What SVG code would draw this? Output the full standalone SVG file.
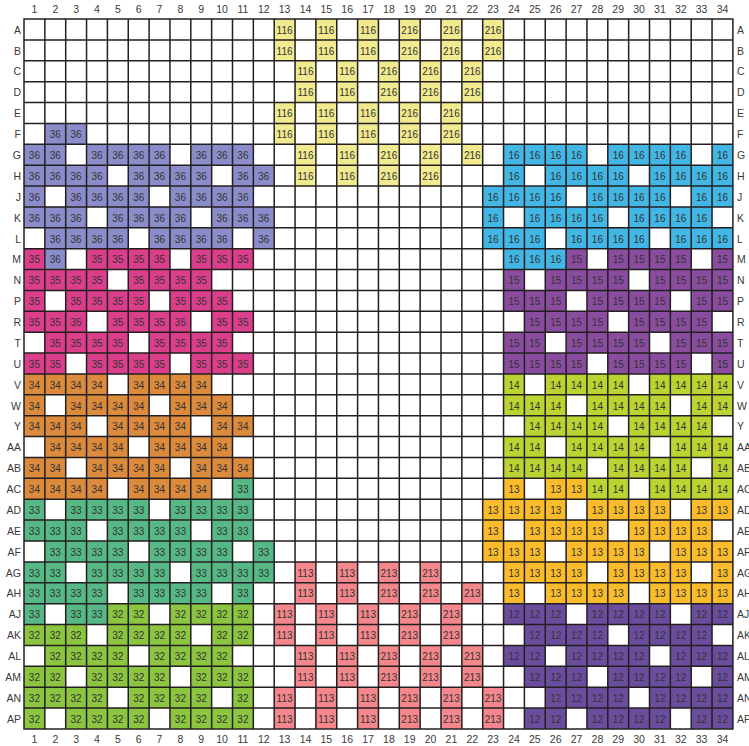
<svg xmlns="http://www.w3.org/2000/svg" width="749" height="746" viewBox="0 0 749 746">
<style>
text{font-family:"Liberation Sans",Arial,Helvetica,sans-serif;font-size:10px;fill:#333;text-anchor:middle}
.la{text-anchor:end;font-size:10.5px;fill:#3a3a3a}
.ra{text-anchor:start;font-size:10.5px;fill:#3a3a3a}
.ta{font-size:10.5px;fill:#3a3a3a}
.cy{fill:#f1ea8f}.cr{fill:#f4878b}
.c36{fill:#8b8dca}.c35{fill:#db3f8b}.c34{fill:#dc8a3c}.c33{fill:#56b985}.c32{fill:#8cc53f}
.c16{fill:#42b7e6}.c15{fill:#8a4c9e}.c14{fill:#bcd432}.c13{fill:#fbbc2b}.c12{fill:#6b4d9e}
#grid{fill:none;stroke:#231f20;stroke-width:1.5;stroke-linecap:square}
</style>
<rect width="749" height="746" fill="#fff"/>
<g id="col-labels-top" transform="translate(0,13.1)">
<text class="ta" x="34.4">1</text><text class="ta" x="55.3">2</text><text class="ta" x="76.1">3</text><text class="ta" x="97">4</text><text class="ta" x="117.8">5</text><text class="ta" x="138.7">6</text><text class="ta" x="159.5">7</text><text class="ta" x="180.4">8</text><text class="ta" x="201.2">9</text><text class="ta" x="222.1">10</text><text class="ta" x="242.9">11</text><text class="ta" x="263.8">12</text><text class="ta" x="284.6">13</text><text class="ta" x="305.5">14</text><text class="ta" x="326.3">15</text><text class="ta" x="347.2">16</text><text class="ta" x="368">17</text><text class="ta" x="388.9">18</text><text class="ta" x="409.7">19</text><text class="ta" x="430.6">20</text><text class="ta" x="451.4">21</text><text class="ta" x="472.3">22</text><text class="ta" x="493.1">23</text><text class="ta" x="514">24</text><text class="ta" x="534.8">25</text><text class="ta" x="555.7">26</text><text class="ta" x="576.5">27</text><text class="ta" x="597.4">28</text><text class="ta" x="618.2">29</text><text class="ta" x="639.1">30</text><text class="ta" x="659.9">31</text><text class="ta" x="680.8">32</text><text class="ta" x="701.6">33</text><text class="ta" x="722.5">34</text>
</g>
<g id="col-labels-bottom" transform="translate(0,742.8)">
<text class="ta" x="34.4">1</text><text class="ta" x="55.3">2</text><text class="ta" x="76.1">3</text><text class="ta" x="97">4</text><text class="ta" x="117.8">5</text><text class="ta" x="138.7">6</text><text class="ta" x="159.5">7</text><text class="ta" x="180.4">8</text><text class="ta" x="201.2">9</text><text class="ta" x="222.1">10</text><text class="ta" x="242.9">11</text><text class="ta" x="263.8">12</text><text class="ta" x="284.6">13</text><text class="ta" x="305.5">14</text><text class="ta" x="326.3">15</text><text class="ta" x="347.2">16</text><text class="ta" x="368">17</text><text class="ta" x="388.9">18</text><text class="ta" x="409.7">19</text><text class="ta" x="430.6">20</text><text class="ta" x="451.4">21</text><text class="ta" x="472.3">22</text><text class="ta" x="493.1">23</text><text class="ta" x="514">24</text><text class="ta" x="534.8">25</text><text class="ta" x="555.7">26</text><text class="ta" x="576.5">27</text><text class="ta" x="597.4">28</text><text class="ta" x="618.2">29</text><text class="ta" x="639.1">30</text><text class="ta" x="659.9">31</text><text class="ta" x="680.8">32</text><text class="ta" x="701.6">33</text><text class="ta" x="722.5">34</text>
</g>
<g id="cells">
<g id="row-A" transform="translate(0,33.7)">
<rect class="cy" x="274.2" y="-14.7" width="20.85" height="20.88"/><rect class="cy" x="315.9" y="-14.7" width="20.85" height="20.88"/><rect class="cy" x="357.6" y="-14.7" width="20.85" height="20.88"/><rect class="cy" x="399.3" y="-14.7" width="20.85" height="20.88"/><rect class="cy" x="441" y="-14.7" width="20.85" height="20.88"/><rect class="cy" x="482.7" y="-14.7" width="20.85" height="20.88"/>
<text x="284.6">116</text><text x="326.3">116</text><text x="368">116</text><text x="409.7">216</text><text x="451.4">216</text><text x="493.1">216</text>
<text class="la" x="21">A</text><text class="ra" x="737">A</text>
</g>
<g id="row-B" transform="translate(0,54.58)">
<rect class="cy" x="274.2" y="-14.7" width="20.85" height="20.88"/><rect class="cy" x="315.9" y="-14.7" width="20.85" height="20.88"/><rect class="cy" x="357.6" y="-14.7" width="20.85" height="20.88"/><rect class="cy" x="399.3" y="-14.7" width="20.85" height="20.88"/><rect class="cy" x="441" y="-14.7" width="20.85" height="20.88"/><rect class="cy" x="482.7" y="-14.7" width="20.85" height="20.88"/>
<text x="284.6">116</text><text x="326.3">116</text><text x="368">116</text><text x="409.7">216</text><text x="451.4">216</text><text x="493.1">216</text>
<text class="la" x="21">B</text><text class="ra" x="737">B</text>
</g>
<g id="row-C" transform="translate(0,75.46)">
<rect class="cy" x="295.05" y="-14.7" width="20.85" height="20.88"/><rect class="cy" x="336.75" y="-14.7" width="20.85" height="20.88"/><rect class="cy" x="378.45" y="-14.7" width="20.85" height="20.88"/><rect class="cy" x="420.15" y="-14.7" width="20.85" height="20.88"/><rect class="cy" x="461.85" y="-14.7" width="20.85" height="20.88"/>
<text x="305.5">116</text><text x="347.2">116</text><text x="388.9">216</text><text x="430.6">216</text><text x="472.3">216</text>
<text class="la" x="21">C</text><text class="ra" x="737">C</text>
</g>
<g id="row-D" transform="translate(0,96.34)">
<rect class="cy" x="295.05" y="-14.7" width="20.85" height="20.88"/><rect class="cy" x="336.75" y="-14.7" width="20.85" height="20.88"/><rect class="cy" x="378.45" y="-14.7" width="20.85" height="20.88"/><rect class="cy" x="420.15" y="-14.7" width="20.85" height="20.88"/><rect class="cy" x="461.85" y="-14.7" width="20.85" height="20.88"/>
<text x="305.5">116</text><text x="347.2">116</text><text x="388.9">216</text><text x="430.6">216</text><text x="472.3">216</text>
<text class="la" x="21">D</text><text class="ra" x="737">D</text>
</g>
<g id="row-E" transform="translate(0,117.22)">
<rect class="cy" x="274.2" y="-14.7" width="20.85" height="20.88"/><rect class="cy" x="315.9" y="-14.7" width="20.85" height="20.88"/><rect class="cy" x="357.6" y="-14.7" width="20.85" height="20.88"/><rect class="cy" x="399.3" y="-14.7" width="20.85" height="20.88"/><rect class="cy" x="441" y="-14.7" width="20.85" height="20.88"/>
<text x="284.6">116</text><text x="326.3">116</text><text x="368">116</text><text x="409.7">216</text><text x="451.4">216</text>
<text class="la" x="21">E</text><text class="ra" x="737">E</text>
</g>
<g id="row-F" transform="translate(0,138.1)">
<rect class="c36" x="44.85" y="-14.7" width="41.7" height="20.88"/>
<rect class="cy" x="274.2" y="-14.7" width="20.85" height="20.88"/><rect class="cy" x="315.9" y="-14.7" width="20.85" height="20.88"/><rect class="cy" x="357.6" y="-14.7" width="20.85" height="20.88"/><rect class="cy" x="399.3" y="-14.7" width="20.85" height="20.88"/><rect class="cy" x="441" y="-14.7" width="20.85" height="20.88"/>
<text x="55.3">36</text><text x="76.1">36</text>
<text x="284.6">116</text><text x="326.3">116</text><text x="368">116</text><text x="409.7">216</text><text x="451.4">216</text>
<text class="la" x="21">F</text><text class="ra" x="737">F</text>
</g>
<g id="row-G" transform="translate(0,158.98)">
<rect class="c36" x="24" y="-14.7" width="41.7" height="20.88"/><rect class="c36" x="86.55" y="-14.7" width="83.4" height="20.88"/><rect class="c36" x="190.8" y="-14.7" width="62.55" height="20.88"/>
<rect class="cy" x="295.05" y="-14.7" width="20.85" height="20.88"/><rect class="cy" x="336.75" y="-14.7" width="20.85" height="20.88"/><rect class="cy" x="378.45" y="-14.7" width="20.85" height="20.88"/><rect class="cy" x="420.15" y="-14.7" width="20.85" height="20.88"/><rect class="cy" x="461.85" y="-14.7" width="20.85" height="20.88"/>
<rect class="c16" x="503.55" y="-14.7" width="83.4" height="20.88"/><rect class="c16" x="607.8" y="-14.7" width="83.4" height="20.88"/><rect class="c16" x="712.05" y="-14.7" width="20.85" height="20.88"/>
<text x="34.4">36</text><text x="55.3">36</text><text x="97">36</text><text x="117.8">36</text><text x="138.7">36</text><text x="159.5">36</text><text x="201.2">36</text><text x="222.1">36</text><text x="242.9">36</text>
<text x="305.5">116</text><text x="347.2">116</text><text x="388.9">216</text><text x="430.6">216</text><text x="472.3">216</text>
<text x="514">16</text><text x="534.8">16</text><text x="555.7">16</text><text x="576.5">16</text><text x="618.2">16</text><text x="639.1">16</text><text x="659.9">16</text><text x="680.8">16</text><text x="722.5">16</text>
<text class="la" x="21">G</text><text class="ra" x="737">G</text>
</g>
<g id="row-H" transform="translate(0,179.86)">
<rect class="c36" x="24" y="-14.7" width="83.4" height="20.88"/><rect class="c36" x="128.25" y="-14.7" width="83.4" height="20.88"/><rect class="c36" x="232.5" y="-14.7" width="41.7" height="20.88"/>
<rect class="cy" x="295.05" y="-14.7" width="20.85" height="20.88"/><rect class="cy" x="336.75" y="-14.7" width="20.85" height="20.88"/><rect class="cy" x="378.45" y="-14.7" width="20.85" height="20.88"/><rect class="cy" x="420.15" y="-14.7" width="20.85" height="20.88"/>
<rect class="c16" x="503.55" y="-14.7" width="20.85" height="20.88"/><rect class="c16" x="545.25" y="-14.7" width="83.4" height="20.88"/><rect class="c16" x="649.5" y="-14.7" width="83.4" height="20.88"/>
<text x="34.4">36</text><text x="55.3">36</text><text x="76.1">36</text><text x="97">36</text><text x="138.7">36</text><text x="159.5">36</text><text x="180.4">36</text><text x="201.2">36</text><text x="242.9">36</text><text x="263.8">36</text>
<text x="305.5">116</text><text x="347.2">116</text><text x="388.9">216</text><text x="430.6">216</text>
<text x="514">16</text><text x="555.7">16</text><text x="576.5">16</text><text x="597.4">16</text><text x="618.2">16</text><text x="659.9">16</text><text x="680.8">16</text><text x="701.6">16</text><text x="722.5">16</text>
<text class="la" x="21">H</text><text class="ra" x="737">H</text>
</g>
<g id="row-J" transform="translate(0,200.74)">
<rect class="c36" x="24" y="-14.7" width="20.85" height="20.88"/><rect class="c36" x="65.7" y="-14.7" width="83.4" height="20.88"/><rect class="c36" x="169.95" y="-14.7" width="83.4" height="20.88"/>
<rect class="c16" x="482.7" y="-14.7" width="83.4" height="20.88"/><rect class="c16" x="586.95" y="-14.7" width="83.4" height="20.88"/><rect class="c16" x="691.2" y="-14.7" width="41.7" height="20.88"/>
<text x="34.4">36</text><text x="76.1">36</text><text x="97">36</text><text x="117.8">36</text><text x="138.7">36</text><text x="180.4">36</text><text x="201.2">36</text><text x="222.1">36</text><text x="242.9">36</text>
<text x="493.1">16</text><text x="514">16</text><text x="534.8">16</text><text x="555.7">16</text><text x="597.4">16</text><text x="618.2">16</text><text x="639.1">16</text><text x="659.9">16</text><text x="701.6">16</text><text x="722.5">16</text>
<text class="la" x="21">J</text><text class="ra" x="737">J</text>
</g>
<g id="row-K" transform="translate(0,221.62)">
<rect class="c36" x="24" y="-14.7" width="62.55" height="20.88"/><rect class="c36" x="107.4" y="-14.7" width="83.4" height="20.88"/><rect class="c36" x="211.65" y="-14.7" width="62.55" height="20.88"/>
<rect class="c16" x="482.7" y="-14.7" width="20.85" height="20.88"/><rect class="c16" x="524.4" y="-14.7" width="83.4" height="20.88"/><rect class="c16" x="628.65" y="-14.7" width="83.4" height="20.88"/>
<text x="34.4">36</text><text x="55.3">36</text><text x="76.1">36</text><text x="117.8">36</text><text x="138.7">36</text><text x="159.5">36</text><text x="180.4">36</text><text x="222.1">36</text><text x="242.9">36</text><text x="263.8">36</text>
<text x="493.1">16</text><text x="534.8">16</text><text x="555.7">16</text><text x="576.5">16</text><text x="597.4">16</text><text x="639.1">16</text><text x="659.9">16</text><text x="680.8">16</text><text x="701.6">16</text>
<text class="la" x="21">K</text><text class="ra" x="737">K</text>
</g>
<g id="row-L" transform="translate(0,242.5)">
<rect class="c36" x="44.85" y="-14.7" width="83.4" height="20.88"/><rect class="c36" x="149.1" y="-14.7" width="83.4" height="20.88"/><rect class="c36" x="253.35" y="-14.7" width="20.85" height="20.88"/>
<rect class="c16" x="482.7" y="-14.7" width="62.55" height="20.88"/><rect class="c16" x="566.1" y="-14.7" width="83.4" height="20.88"/><rect class="c16" x="670.35" y="-14.7" width="62.55" height="20.88"/>
<text x="55.3">36</text><text x="76.1">36</text><text x="97">36</text><text x="117.8">36</text><text x="159.5">36</text><text x="180.4">36</text><text x="201.2">36</text><text x="222.1">36</text><text x="263.8">36</text>
<text x="493.1">16</text><text x="514">16</text><text x="534.8">16</text><text x="576.5">16</text><text x="597.4">16</text><text x="618.2">16</text><text x="639.1">16</text><text x="680.8">16</text><text x="701.6">16</text><text x="722.5">16</text>
<text class="la" x="21">L</text><text class="ra" x="737">L</text>
</g>
<g id="row-M" transform="translate(0,263.38)">
<rect class="c35" x="24" y="-14.7" width="20.85" height="20.88"/><rect class="c36" x="44.85" y="-14.7" width="20.85" height="20.88"/><rect class="c35" x="86.55" y="-14.7" width="83.4" height="20.88"/><rect class="c35" x="190.8" y="-14.7" width="62.55" height="20.88"/>
<rect class="c16" x="503.55" y="-14.7" width="62.55" height="20.88"/><rect class="c15" x="566.1" y="-14.7" width="20.85" height="20.88"/><rect class="c15" x="607.8" y="-14.7" width="83.4" height="20.88"/><rect class="c15" x="712.05" y="-14.7" width="20.85" height="20.88"/>
<text x="34.4">35</text><text x="55.3">36</text><text x="97">35</text><text x="117.8">35</text><text x="138.7">35</text><text x="159.5">35</text><text x="201.2">35</text><text x="222.1">35</text><text x="242.9">35</text>
<text x="514">16</text><text x="534.8">16</text><text x="555.7">16</text><text x="576.5">15</text><text x="618.2">15</text><text x="639.1">15</text><text x="659.9">15</text><text x="680.8">15</text><text x="722.5">15</text>
<text class="la" x="21">M</text><text class="ra" x="737">M</text>
</g>
<g id="row-N" transform="translate(0,284.26)">
<rect class="c35" x="24" y="-14.7" width="83.4" height="20.88"/><rect class="c35" x="128.25" y="-14.7" width="83.4" height="20.88"/>
<rect class="c15" x="503.55" y="-14.7" width="20.85" height="20.88"/><rect class="c15" x="545.25" y="-14.7" width="83.4" height="20.88"/><rect class="c15" x="649.5" y="-14.7" width="83.4" height="20.88"/>
<text x="34.4">35</text><text x="55.3">35</text><text x="76.1">35</text><text x="97">35</text><text x="138.7">35</text><text x="159.5">35</text><text x="180.4">35</text><text x="201.2">35</text>
<text x="514">15</text><text x="555.7">15</text><text x="576.5">15</text><text x="597.4">15</text><text x="618.2">15</text><text x="659.9">15</text><text x="680.8">15</text><text x="701.6">15</text><text x="722.5">15</text>
<text class="la" x="21">N</text><text class="ra" x="737">N</text>
</g>
<g id="row-P" transform="translate(0,305.14)">
<rect class="c35" x="24" y="-14.7" width="20.85" height="20.88"/><rect class="c35" x="65.7" y="-14.7" width="83.4" height="20.88"/><rect class="c35" x="169.95" y="-14.7" width="62.55" height="20.88"/>
<rect class="c15" x="503.55" y="-14.7" width="62.55" height="20.88"/><rect class="c15" x="586.95" y="-14.7" width="83.4" height="20.88"/><rect class="c15" x="691.2" y="-14.7" width="41.7" height="20.88"/>
<text x="34.4">35</text><text x="76.1">35</text><text x="97">35</text><text x="117.8">35</text><text x="138.7">35</text><text x="180.4">35</text><text x="201.2">35</text><text x="222.1">35</text>
<text x="514">15</text><text x="534.8">15</text><text x="555.7">15</text><text x="597.4">15</text><text x="618.2">15</text><text x="639.1">15</text><text x="659.9">15</text><text x="701.6">15</text><text x="722.5">15</text>
<text class="la" x="21">P</text><text class="ra" x="737">P</text>
</g>
<g id="row-R" transform="translate(0,326.02)">
<rect class="c35" x="24" y="-14.7" width="62.55" height="20.88"/><rect class="c35" x="107.4" y="-14.7" width="83.4" height="20.88"/><rect class="c35" x="211.65" y="-14.7" width="41.7" height="20.88"/>
<rect class="c15" x="524.4" y="-14.7" width="83.4" height="20.88"/><rect class="c15" x="628.65" y="-14.7" width="83.4" height="20.88"/>
<text x="34.4">35</text><text x="55.3">35</text><text x="76.1">35</text><text x="117.8">35</text><text x="138.7">35</text><text x="159.5">35</text><text x="180.4">35</text><text x="222.1">35</text><text x="242.9">35</text>
<text x="534.8">15</text><text x="555.7">15</text><text x="576.5">15</text><text x="597.4">15</text><text x="639.1">15</text><text x="659.9">15</text><text x="680.8">15</text><text x="701.6">15</text>
<text class="la" x="21">R</text><text class="ra" x="737">R</text>
</g>
<g id="row-T" transform="translate(0,346.9)">
<rect class="c35" x="44.85" y="-14.7" width="83.4" height="20.88"/><rect class="c35" x="149.1" y="-14.7" width="83.4" height="20.88"/>
<rect class="c15" x="503.55" y="-14.7" width="41.7" height="20.88"/><rect class="c15" x="566.1" y="-14.7" width="83.4" height="20.88"/><rect class="c15" x="670.35" y="-14.7" width="62.55" height="20.88"/>
<text x="55.3">35</text><text x="76.1">35</text><text x="97">35</text><text x="117.8">35</text><text x="159.5">35</text><text x="180.4">35</text><text x="201.2">35</text><text x="222.1">35</text>
<text x="514">15</text><text x="534.8">15</text><text x="576.5">15</text><text x="597.4">15</text><text x="618.2">15</text><text x="639.1">15</text><text x="680.8">15</text><text x="701.6">15</text><text x="722.5">15</text>
<text class="la" x="21">T</text><text class="ra" x="737">T</text>
</g>
<g id="row-U" transform="translate(0,367.78)">
<rect class="c35" x="24" y="-14.7" width="41.7" height="20.88"/><rect class="c35" x="86.55" y="-14.7" width="83.4" height="20.88"/><rect class="c35" x="190.8" y="-14.7" width="62.55" height="20.88"/>
<rect class="c15" x="503.55" y="-14.7" width="83.4" height="20.88"/><rect class="c15" x="607.8" y="-14.7" width="83.4" height="20.88"/><rect class="c15" x="712.05" y="-14.7" width="20.85" height="20.88"/>
<text x="34.4">35</text><text x="55.3">35</text><text x="97">35</text><text x="117.8">35</text><text x="138.7">35</text><text x="159.5">35</text><text x="201.2">35</text><text x="222.1">35</text><text x="242.9">35</text>
<text x="514">15</text><text x="534.8">15</text><text x="555.7">15</text><text x="576.5">15</text><text x="618.2">15</text><text x="639.1">15</text><text x="659.9">15</text><text x="680.8">15</text><text x="722.5">15</text>
<text class="la" x="21">U</text><text class="ra" x="737">U</text>
</g>
<g id="row-V" transform="translate(0,388.66)">
<rect class="c34" x="24" y="-14.7" width="83.4" height="20.88"/><rect class="c34" x="128.25" y="-14.7" width="83.4" height="20.88"/>
<rect class="c14" x="503.55" y="-14.7" width="20.85" height="20.88"/><rect class="c14" x="545.25" y="-14.7" width="83.4" height="20.88"/><rect class="c14" x="649.5" y="-14.7" width="83.4" height="20.88"/>
<text x="34.4">34</text><text x="55.3">34</text><text x="76.1">34</text><text x="97">34</text><text x="138.7">34</text><text x="159.5">34</text><text x="180.4">34</text><text x="201.2">34</text>
<text x="514">14</text><text x="555.7">14</text><text x="576.5">14</text><text x="597.4">14</text><text x="618.2">14</text><text x="659.9">14</text><text x="680.8">14</text><text x="701.6">14</text><text x="722.5">14</text>
<text class="la" x="21">V</text><text class="ra" x="737">V</text>
</g>
<g id="row-W" transform="translate(0,409.54)">
<rect class="c34" x="24" y="-14.7" width="20.85" height="20.88"/><rect class="c34" x="65.7" y="-14.7" width="83.4" height="20.88"/><rect class="c34" x="169.95" y="-14.7" width="62.55" height="20.88"/>
<rect class="c14" x="503.55" y="-14.7" width="62.55" height="20.88"/><rect class="c14" x="586.95" y="-14.7" width="83.4" height="20.88"/><rect class="c14" x="691.2" y="-14.7" width="41.7" height="20.88"/>
<text x="34.4">34</text><text x="76.1">34</text><text x="97">34</text><text x="117.8">34</text><text x="138.7">34</text><text x="180.4">34</text><text x="201.2">34</text><text x="222.1">34</text>
<text x="514">14</text><text x="534.8">14</text><text x="555.7">14</text><text x="597.4">14</text><text x="618.2">14</text><text x="639.1">14</text><text x="659.9">14</text><text x="701.6">14</text><text x="722.5">14</text>
<text class="la" x="21">W</text><text class="ra" x="737">W</text>
</g>
<g id="row-Y" transform="translate(0,430.42)">
<rect class="c34" x="24" y="-14.7" width="62.55" height="20.88"/><rect class="c34" x="107.4" y="-14.7" width="83.4" height="20.88"/><rect class="c34" x="211.65" y="-14.7" width="41.7" height="20.88"/>
<rect class="c14" x="524.4" y="-14.7" width="83.4" height="20.88"/><rect class="c14" x="628.65" y="-14.7" width="83.4" height="20.88"/>
<text x="34.4">34</text><text x="55.3">34</text><text x="76.1">34</text><text x="117.8">34</text><text x="138.7">34</text><text x="159.5">34</text><text x="180.4">34</text><text x="222.1">34</text><text x="242.9">34</text>
<text x="534.8">14</text><text x="555.7">14</text><text x="576.5">14</text><text x="597.4">14</text><text x="639.1">14</text><text x="659.9">14</text><text x="680.8">14</text><text x="701.6">14</text>
<text class="la" x="21">Y</text><text class="ra" x="737">Y</text>
</g>
<g id="row-AA" transform="translate(0,451.3)">
<rect class="c34" x="44.85" y="-14.7" width="83.4" height="20.88"/><rect class="c34" x="149.1" y="-14.7" width="83.4" height="20.88"/>
<rect class="c14" x="503.55" y="-14.7" width="41.7" height="20.88"/><rect class="c14" x="566.1" y="-14.7" width="83.4" height="20.88"/><rect class="c14" x="670.35" y="-14.7" width="62.55" height="20.88"/>
<text x="55.3">34</text><text x="76.1">34</text><text x="97">34</text><text x="117.8">34</text><text x="159.5">34</text><text x="180.4">34</text><text x="201.2">34</text><text x="222.1">34</text>
<text x="514">14</text><text x="534.8">14</text><text x="576.5">14</text><text x="597.4">14</text><text x="618.2">14</text><text x="639.1">14</text><text x="680.8">14</text><text x="701.6">14</text><text x="722.5">14</text>
<text class="la" x="21">AA</text><text class="ra" x="737">AA</text>
</g>
<g id="row-AB" transform="translate(0,472.18)">
<rect class="c34" x="24" y="-14.7" width="41.7" height="20.88"/><rect class="c34" x="86.55" y="-14.7" width="83.4" height="20.88"/><rect class="c34" x="190.8" y="-14.7" width="62.55" height="20.88"/>
<rect class="c14" x="503.55" y="-14.7" width="83.4" height="20.88"/><rect class="c14" x="607.8" y="-14.7" width="83.4" height="20.88"/><rect class="c14" x="712.05" y="-14.7" width="20.85" height="20.88"/>
<text x="34.4">34</text><text x="55.3">34</text><text x="97">34</text><text x="117.8">34</text><text x="138.7">34</text><text x="159.5">34</text><text x="201.2">34</text><text x="222.1">34</text><text x="242.9">34</text>
<text x="514">14</text><text x="534.8">14</text><text x="555.7">14</text><text x="576.5">14</text><text x="618.2">14</text><text x="639.1">14</text><text x="659.9">14</text><text x="680.8">14</text><text x="722.5">14</text>
<text class="la" x="21">AB</text><text class="ra" x="737">AB</text>
</g>
<g id="row-AC" transform="translate(0,493.06)">
<rect class="c34" x="24" y="-14.7" width="83.4" height="20.88"/><rect class="c34" x="128.25" y="-14.7" width="83.4" height="20.88"/><rect class="c33" x="232.5" y="-14.7" width="20.85" height="20.88"/>
<rect class="c13" x="503.55" y="-14.7" width="20.85" height="20.88"/><rect class="c13" x="545.25" y="-14.7" width="41.7" height="20.88"/><rect class="c14" x="586.95" y="-14.7" width="41.7" height="20.88"/><rect class="c14" x="649.5" y="-14.7" width="83.4" height="20.88"/>
<text x="34.4">34</text><text x="55.3">34</text><text x="76.1">34</text><text x="97">34</text><text x="138.7">34</text><text x="159.5">34</text><text x="180.4">34</text><text x="201.2">34</text><text x="242.9">33</text>
<text x="514">13</text><text x="555.7">13</text><text x="576.5">13</text><text x="597.4">14</text><text x="618.2">14</text><text x="659.9">14</text><text x="680.8">14</text><text x="701.6">14</text><text x="722.5">14</text>
<text class="la" x="21">AC</text><text class="ra" x="737">AC</text>
</g>
<g id="row-AD" transform="translate(0,513.94)">
<rect class="c33" x="24" y="-14.7" width="20.85" height="20.88"/><rect class="c33" x="65.7" y="-14.7" width="83.4" height="20.88"/><rect class="c33" x="169.95" y="-14.7" width="83.4" height="20.88"/>
<rect class="c13" x="482.7" y="-14.7" width="83.4" height="20.88"/><rect class="c13" x="586.95" y="-14.7" width="83.4" height="20.88"/><rect class="c13" x="691.2" y="-14.7" width="41.7" height="20.88"/>
<text x="34.4">33</text><text x="76.1">33</text><text x="97">33</text><text x="117.8">33</text><text x="138.7">33</text><text x="180.4">33</text><text x="201.2">33</text><text x="222.1">33</text><text x="242.9">33</text>
<text x="493.1">13</text><text x="514">13</text><text x="534.8">13</text><text x="555.7">13</text><text x="597.4">13</text><text x="618.2">13</text><text x="639.1">13</text><text x="659.9">13</text><text x="701.6">13</text><text x="722.5">13</text>
<text class="la" x="21">AD</text><text class="ra" x="737">AD</text>
</g>
<g id="row-AE" transform="translate(0,534.82)">
<rect class="c33" x="24" y="-14.7" width="62.55" height="20.88"/><rect class="c33" x="107.4" y="-14.7" width="83.4" height="20.88"/><rect class="c33" x="211.65" y="-14.7" width="41.7" height="20.88"/>
<rect class="c13" x="482.7" y="-14.7" width="20.85" height="20.88"/><rect class="c13" x="524.4" y="-14.7" width="83.4" height="20.88"/><rect class="c13" x="628.65" y="-14.7" width="83.4" height="20.88"/>
<text x="34.4">33</text><text x="55.3">33</text><text x="76.1">33</text><text x="117.8">33</text><text x="138.7">33</text><text x="159.5">33</text><text x="180.4">33</text><text x="222.1">33</text><text x="242.9">33</text>
<text x="493.1">13</text><text x="534.8">13</text><text x="555.7">13</text><text x="576.5">13</text><text x="597.4">13</text><text x="639.1">13</text><text x="659.9">13</text><text x="680.8">13</text><text x="701.6">13</text>
<text class="la" x="21">AE</text><text class="ra" x="737">AE</text>
</g>
<g id="row-AF" transform="translate(0,555.7)">
<rect class="c33" x="44.85" y="-14.7" width="83.4" height="20.88"/><rect class="c33" x="149.1" y="-14.7" width="83.4" height="20.88"/><rect class="c33" x="253.35" y="-14.7" width="20.85" height="20.88"/>
<rect class="c13" x="482.7" y="-14.7" width="62.55" height="20.88"/><rect class="c13" x="566.1" y="-14.7" width="83.4" height="20.88"/><rect class="c13" x="670.35" y="-14.7" width="62.55" height="20.88"/>
<text x="55.3">33</text><text x="76.1">33</text><text x="97">33</text><text x="117.8">33</text><text x="159.5">33</text><text x="180.4">33</text><text x="201.2">33</text><text x="222.1">33</text><text x="263.8">33</text>
<text x="493.1">13</text><text x="514">13</text><text x="534.8">13</text><text x="576.5">13</text><text x="597.4">13</text><text x="618.2">13</text><text x="639.1">13</text><text x="680.8">13</text><text x="701.6">13</text><text x="722.5">13</text>
<text class="la" x="21">AF</text><text class="ra" x="737">AF</text>
</g>
<g id="row-AG" transform="translate(0,576.58)">
<rect class="c33" x="24" y="-14.7" width="41.7" height="20.88"/><rect class="c33" x="86.55" y="-14.7" width="83.4" height="20.88"/><rect class="c33" x="190.8" y="-14.7" width="83.4" height="20.88"/>
<rect class="cr" x="295.05" y="-14.7" width="20.85" height="20.88"/><rect class="cr" x="336.75" y="-14.7" width="20.85" height="20.88"/><rect class="cr" x="378.45" y="-14.7" width="20.85" height="20.88"/><rect class="cr" x="420.15" y="-14.7" width="20.85" height="20.88"/>
<rect class="c13" x="503.55" y="-14.7" width="83.4" height="20.88"/><rect class="c13" x="607.8" y="-14.7" width="83.4" height="20.88"/><rect class="c13" x="712.05" y="-14.7" width="20.85" height="20.88"/>
<text x="34.4">33</text><text x="55.3">33</text><text x="97">33</text><text x="117.8">33</text><text x="138.7">33</text><text x="159.5">33</text><text x="201.2">33</text><text x="222.1">33</text><text x="242.9">33</text><text x="263.8">33</text>
<text x="305.5">113</text><text x="347.2">113</text><text x="388.9">213</text><text x="430.6">213</text>
<text x="514">13</text><text x="534.8">13</text><text x="555.7">13</text><text x="576.5">13</text><text x="618.2">13</text><text x="639.1">13</text><text x="659.9">13</text><text x="680.8">13</text><text x="722.5">13</text>
<text class="la" x="21">AG</text><text class="ra" x="737">AG</text>
</g>
<g id="row-AH" transform="translate(0,597.46)">
<rect class="c33" x="24" y="-14.7" width="83.4" height="20.88"/><rect class="c33" x="128.25" y="-14.7" width="83.4" height="20.88"/><rect class="c33" x="232.5" y="-14.7" width="20.85" height="20.88"/>
<rect class="cr" x="295.05" y="-14.7" width="20.85" height="20.88"/><rect class="cr" x="336.75" y="-14.7" width="20.85" height="20.88"/><rect class="cr" x="378.45" y="-14.7" width="20.85" height="20.88"/><rect class="cr" x="420.15" y="-14.7" width="20.85" height="20.88"/><rect class="cr" x="461.85" y="-14.7" width="20.85" height="20.88"/>
<rect class="c13" x="503.55" y="-14.7" width="20.85" height="20.88"/><rect class="c13" x="545.25" y="-14.7" width="83.4" height="20.88"/><rect class="c13" x="649.5" y="-14.7" width="83.4" height="20.88"/>
<text x="34.4">33</text><text x="55.3">33</text><text x="76.1">33</text><text x="97">33</text><text x="138.7">33</text><text x="159.5">33</text><text x="180.4">33</text><text x="201.2">33</text><text x="242.9">33</text>
<text x="305.5">113</text><text x="347.2">113</text><text x="388.9">213</text><text x="430.6">213</text><text x="472.3">213</text>
<text x="514">13</text><text x="555.7">13</text><text x="576.5">13</text><text x="597.4">13</text><text x="618.2">13</text><text x="659.9">13</text><text x="680.8">13</text><text x="701.6">13</text><text x="722.5">13</text>
<text class="la" x="21">AH</text><text class="ra" x="737">AH</text>
</g>
<g id="row-AJ" transform="translate(0,618.34)">
<rect class="c33" x="24" y="-14.7" width="20.85" height="20.88"/><rect class="c33" x="65.7" y="-14.7" width="41.7" height="20.88"/><rect class="c32" x="107.4" y="-14.7" width="41.7" height="20.88"/><rect class="c32" x="169.95" y="-14.7" width="83.4" height="20.88"/>
<rect class="cr" x="274.2" y="-14.7" width="20.85" height="20.88"/><rect class="cr" x="315.9" y="-14.7" width="20.85" height="20.88"/><rect class="cr" x="357.6" y="-14.7" width="20.85" height="20.88"/><rect class="cr" x="399.3" y="-14.7" width="20.85" height="20.88"/><rect class="cr" x="441" y="-14.7" width="20.85" height="20.88"/>
<rect class="c12" x="503.55" y="-14.7" width="62.55" height="20.88"/><rect class="c12" x="586.95" y="-14.7" width="83.4" height="20.88"/><rect class="c12" x="691.2" y="-14.7" width="41.7" height="20.88"/>
<text x="34.4">33</text><text x="76.1">33</text><text x="97">33</text><text x="117.8">32</text><text x="138.7">32</text><text x="180.4">32</text><text x="201.2">32</text><text x="222.1">32</text><text x="242.9">32</text>
<text x="284.6">113</text><text x="326.3">113</text><text x="368">113</text><text x="409.7">213</text><text x="451.4">213</text>
<text x="514">12</text><text x="534.8">12</text><text x="555.7">12</text><text x="597.4">12</text><text x="618.2">12</text><text x="639.1">12</text><text x="659.9">12</text><text x="701.6">12</text><text x="722.5">12</text>
<text class="la" x="21">AJ</text><text class="ra" x="737">AJ</text>
</g>
<g id="row-AK" transform="translate(0,639.22)">
<rect class="c32" x="24" y="-14.7" width="62.55" height="20.88"/><rect class="c32" x="107.4" y="-14.7" width="83.4" height="20.88"/><rect class="c32" x="211.65" y="-14.7" width="41.7" height="20.88"/>
<rect class="cr" x="274.2" y="-14.7" width="20.85" height="20.88"/><rect class="cr" x="315.9" y="-14.7" width="20.85" height="20.88"/><rect class="cr" x="357.6" y="-14.7" width="20.85" height="20.88"/><rect class="cr" x="399.3" y="-14.7" width="20.85" height="20.88"/><rect class="cr" x="441" y="-14.7" width="20.85" height="20.88"/>
<rect class="c12" x="524.4" y="-14.7" width="83.4" height="20.88"/><rect class="c12" x="628.65" y="-14.7" width="83.4" height="20.88"/>
<text x="34.4">32</text><text x="55.3">32</text><text x="76.1">32</text><text x="117.8">32</text><text x="138.7">32</text><text x="159.5">32</text><text x="180.4">32</text><text x="222.1">32</text><text x="242.9">32</text>
<text x="284.6">113</text><text x="326.3">113</text><text x="368">113</text><text x="409.7">213</text><text x="451.4">213</text>
<text x="534.8">12</text><text x="555.7">12</text><text x="576.5">12</text><text x="597.4">12</text><text x="639.1">12</text><text x="659.9">12</text><text x="680.8">12</text><text x="701.6">12</text>
<text class="la" x="21">AK</text><text class="ra" x="737">AK</text>
</g>
<g id="row-AL" transform="translate(0,660.1)">
<rect class="c32" x="44.85" y="-14.7" width="83.4" height="20.88"/><rect class="c32" x="149.1" y="-14.7" width="83.4" height="20.88"/>
<rect class="cr" x="295.05" y="-14.7" width="20.85" height="20.88"/><rect class="cr" x="336.75" y="-14.7" width="20.85" height="20.88"/><rect class="cr" x="378.45" y="-14.7" width="20.85" height="20.88"/><rect class="cr" x="420.15" y="-14.7" width="20.85" height="20.88"/><rect class="cr" x="461.85" y="-14.7" width="20.85" height="20.88"/>
<rect class="c12" x="503.55" y="-14.7" width="41.7" height="20.88"/><rect class="c12" x="566.1" y="-14.7" width="83.4" height="20.88"/><rect class="c12" x="670.35" y="-14.7" width="62.55" height="20.88"/>
<text x="55.3">32</text><text x="76.1">32</text><text x="97">32</text><text x="117.8">32</text><text x="159.5">32</text><text x="180.4">32</text><text x="201.2">32</text><text x="222.1">32</text>
<text x="305.5">113</text><text x="347.2">113</text><text x="388.9">213</text><text x="430.6">213</text><text x="472.3">213</text>
<text x="514">12</text><text x="534.8">12</text><text x="576.5">12</text><text x="597.4">12</text><text x="618.2">12</text><text x="639.1">12</text><text x="680.8">12</text><text x="701.6">12</text><text x="722.5">12</text>
<text class="la" x="21">AL</text><text class="ra" x="737">AL</text>
</g>
<g id="row-AM" transform="translate(0,680.98)">
<rect class="c32" x="24" y="-14.7" width="41.7" height="20.88"/><rect class="c32" x="86.55" y="-14.7" width="83.4" height="20.88"/><rect class="c32" x="190.8" y="-14.7" width="62.55" height="20.88"/>
<rect class="cr" x="295.05" y="-14.7" width="20.85" height="20.88"/><rect class="cr" x="336.75" y="-14.7" width="20.85" height="20.88"/><rect class="cr" x="378.45" y="-14.7" width="20.85" height="20.88"/><rect class="cr" x="420.15" y="-14.7" width="20.85" height="20.88"/><rect class="cr" x="461.85" y="-14.7" width="20.85" height="20.88"/>
<rect class="c12" x="524.4" y="-14.7" width="62.55" height="20.88"/><rect class="c12" x="607.8" y="-14.7" width="83.4" height="20.88"/><rect class="c12" x="712.05" y="-14.7" width="20.85" height="20.88"/>
<text x="34.4">32</text><text x="55.3">32</text><text x="97">32</text><text x="117.8">32</text><text x="138.7">32</text><text x="159.5">32</text><text x="201.2">32</text><text x="222.1">32</text><text x="242.9">32</text>
<text x="305.5">113</text><text x="347.2">113</text><text x="388.9">213</text><text x="430.6">213</text><text x="472.3">213</text>
<text x="534.8">12</text><text x="555.7">12</text><text x="576.5">12</text><text x="618.2">12</text><text x="639.1">12</text><text x="659.9">12</text><text x="680.8">12</text><text x="722.5">12</text>
<text class="la" x="21">AM</text><text class="ra" x="737">AM</text>
</g>
<g id="row-AN" transform="translate(0,701.86)">
<rect class="c32" x="24" y="-14.7" width="83.4" height="20.88"/><rect class="c32" x="128.25" y="-14.7" width="83.4" height="20.88"/><rect class="c32" x="232.5" y="-14.7" width="20.85" height="20.88"/>
<rect class="cr" x="274.2" y="-14.7" width="20.85" height="20.88"/><rect class="cr" x="315.9" y="-14.7" width="20.85" height="20.88"/><rect class="cr" x="357.6" y="-14.7" width="20.85" height="20.88"/><rect class="cr" x="399.3" y="-14.7" width="20.85" height="20.88"/><rect class="cr" x="441" y="-14.7" width="20.85" height="20.88"/><rect class="cr" x="482.7" y="-14.7" width="20.85" height="20.88"/>
<rect class="c12" x="545.25" y="-14.7" width="83.4" height="20.88"/><rect class="c12" x="649.5" y="-14.7" width="83.4" height="20.88"/>
<text x="34.4">32</text><text x="55.3">32</text><text x="76.1">32</text><text x="97">32</text><text x="138.7">32</text><text x="159.5">32</text><text x="180.4">32</text><text x="201.2">32</text><text x="242.9">32</text>
<text x="284.6">113</text><text x="326.3">113</text><text x="368">113</text><text x="409.7">213</text><text x="451.4">213</text><text x="493.1">213</text>
<text x="555.7">12</text><text x="576.5">12</text><text x="597.4">12</text><text x="618.2">12</text><text x="659.9">12</text><text x="680.8">12</text><text x="701.6">12</text><text x="722.5">12</text>
<text class="la" x="21">AN</text><text class="ra" x="737">AN</text>
</g>
<g id="row-AP" transform="translate(0,722.74)">
<rect class="c32" x="24" y="-14.7" width="20.85" height="20.88"/><rect class="c32" x="65.7" y="-14.7" width="83.4" height="20.88"/><rect class="c32" x="169.95" y="-14.7" width="83.4" height="20.88"/>
<rect class="cr" x="274.2" y="-14.7" width="20.85" height="20.88"/><rect class="cr" x="315.9" y="-14.7" width="20.85" height="20.88"/><rect class="cr" x="357.6" y="-14.7" width="20.85" height="20.88"/><rect class="cr" x="399.3" y="-14.7" width="20.85" height="20.88"/><rect class="cr" x="441" y="-14.7" width="20.85" height="20.88"/><rect class="cr" x="482.7" y="-14.7" width="20.85" height="20.88"/>
<rect class="c12" x="524.4" y="-14.7" width="41.7" height="20.88"/><rect class="c12" x="586.95" y="-14.7" width="83.4" height="20.88"/><rect class="c12" x="691.2" y="-14.7" width="41.7" height="20.88"/>
<text x="34.4">32</text><text x="76.1">32</text><text x="97">32</text><text x="117.8">32</text><text x="138.7">32</text><text x="180.4">32</text><text x="201.2">32</text><text x="222.1">32</text><text x="242.9">32</text>
<text x="284.6">113</text><text x="326.3">113</text><text x="368">113</text><text x="409.7">213</text><text x="451.4">213</text><text x="493.1">213</text>
<text x="534.8">12</text><text x="555.7">12</text><text x="597.4">12</text><text x="618.2">12</text><text x="639.1">12</text><text x="659.9">12</text><text x="701.6">12</text><text x="722.5">12</text>
<text class="la" x="21">AP</text><text class="ra" x="737">AP</text>
</g>
</g>
<path id="grid" d="M24 19V728.92M44.85 19V728.92M65.7 19V728.92M86.55 19V728.92M107.4 19V728.92M128.25 19V728.92M149.1 19V728.92M169.95 19V728.92M190.8 19V728.92M211.65 19V728.92M232.5 19V728.92M253.35 19V728.92M274.2 19V728.92M295.05 19V728.92M315.9 19V728.92M336.75 19V728.92M357.6 19V728.92M378.45 19V728.92M399.3 19V728.92M420.15 19V728.92M441 19V728.92M461.85 19V728.92M482.7 19V728.92M503.55 19V728.92M524.4 19V728.92M545.25 19V728.92M566.1 19V728.92M586.95 19V728.92M607.8 19V728.92M628.65 19V728.92M649.5 19V728.92M670.35 19V728.92M691.2 19V728.92M712.05 19V728.92M732.9 19V728.92M24 19H732.9M24 39.88H732.9M24 60.76H732.9M24 81.64H732.9M24 102.52H732.9M24 123.4H732.9M24 144.28H732.9M24 165.16H732.9M24 186.04H732.9M24 206.92H732.9M24 227.8H732.9M24 248.68H732.9M24 269.56H732.9M24 290.44H732.9M24 311.32H732.9M24 332.2H732.9M24 353.08H732.9M24 373.96H732.9M24 394.84H732.9M24 415.72H732.9M24 436.6H732.9M24 457.48H732.9M24 478.36H732.9M24 499.24H732.9M24 520.12H732.9M24 541H732.9M24 561.88H732.9M24 582.76H732.9M24 603.64H732.9M24 624.52H732.9M24 645.4H732.9M24 666.28H732.9M24 687.16H732.9M24 708.04H732.9M24 728.92H732.9"/>
</svg>
